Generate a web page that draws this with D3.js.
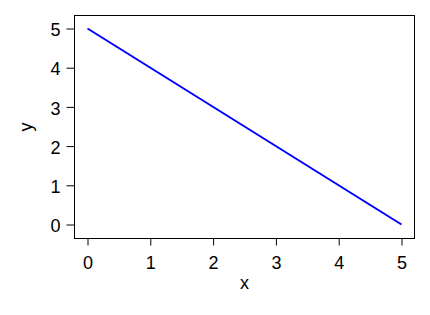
<!DOCTYPE html>
<html>
<head>
<meta charset="utf-8">
<script src="https://cdn.jsdelivr.net/npm/d3@7"></script>
<style>
  html, body { margin: 0; padding: 0; background: #fff; }
  svg { display: block; }
</style>
</head>
<body>
<div id="chart"></div>
<script>
// data
const xValues = [0, 5];
const yValues = [5, 0];
const xTicks = [0, 1, 2, 3, 4, 5];
const yTicks = [0, 1, 2, 3, 4, 5];

const width = 430, height = 315;
const box = {left: 74.5, top: 15.5, right: 414.5, bottom: 238.5};
const fontFamily = "'Liberation Sans', Arial, sans-serif";
const fontSize = "18px";

const svg = d3.select("#chart")
  .append("svg")
    .attr("width", width)
    .attr("height", height)
    .style("font-family", fontFamily);

const x = d3.scaleLinear()
  .domain([0, 5])
  .range([87.5, 401.5]);

const y = d3.scaleLinear()
  .domain([0, 5])
  .range([224.5, 28.5]);

// x axis
svg.append("g")
  .attr("transform", `translate(0, ${box.bottom})`)
  .call(d3.axisBottom(x).tickValues(xTicks).tickFormat(d3.format("d")).tickSize(7).tickPadding(11))
  .call(g => g.select(".domain").remove())
  .call(g => g.selectAll("line").attr("stroke", "#000"))
  .call(g => g.selectAll("text")
    .attr("fill", "#000")
    .attr("font-size", fontSize)
    .attr("font-family", fontFamily));

// y axis
svg.append("g")
  .attr("transform", `translate(${box.left}, 0)`)
  .call(d3.axisLeft(y).tickValues(yTicks).tickFormat(d3.format("d")).tickSize(8).tickPadding(6))
  .call(g => g.select(".domain").remove())
  .call(g => g.selectAll("line").attr("stroke", "#000"))
  .call(g => g.selectAll("text")
    .attr("fill", "#000")
    .attr("dy", "0.4em")
    .attr("font-size", fontSize)
    .attr("font-family", fontFamily));

// plot box
svg.append("rect")
  .attr("x", box.left)
  .attr("y", box.top)
  .attr("width", box.right - box.left)
  .attr("height", box.bottom - box.top)
  .attr("fill", "none")
  .attr("stroke", "#000")
  .attr("stroke-width", 1);

// line
const points = xValues.map((d, i) => [d, yValues[i]]);
svg.append("path")
  .datum(points)
  .attr("d", d3.line().x(d => x(d[0])).y(d => y(d[1])))
  .attr("fill", "none")
  .attr("stroke", "#0000ff")
  .attr("stroke-width", 2);

// axis titles
svg.append("text")
  .attr("x", (box.left + box.right) / 2)
  .attr("y", 289)
  .attr("text-anchor", "middle")
  .attr("font-size", fontSize)
  .text("x");

svg.append("text")
  .attr("transform", `translate(32, ${(box.top + box.bottom) / 2}) rotate(-90)`)
  .attr("text-anchor", "middle")
  .attr("font-size", fontSize)
  .text("y");
</script>
</body>
</html>
